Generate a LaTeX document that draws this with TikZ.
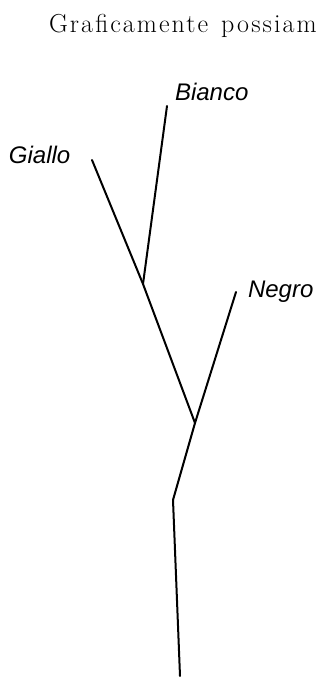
\documentclass[tikz,border=0pt]{standalone}
\usepackage{fontspec}
\newfontfamily\labelfont{Liberation Sans}
\newfontfamily\scanfont[LetterSpace=8]{Latin Modern Roman}
\usetikzlibrary{positioning}
\tikzset{
  every picture/.style={line width=2pt},
  branch/.style={draw=black, line cap=round, line join=round},
  colour/.style={font=\labelfont\itshape\fontsize{24}{28}\selectfont, inner sep=0pt, anchor=base west},
  scan/.style={font=\scanfont\fontsize{26}{30}\selectfont, inner sep=0pt, anchor=base west},
}

\begin{document}
\begin{tikzpicture}[x=1pt, y=-1pt]
  \useasboundingbox (0,0) rectangle (321,677);
  \node[scan] (head) at (48,33) {Graficamente\hspace{3pt} possiam};
  % the three colours
  \node[colour] (bianco) at (174,100) {Bianco};
  \node[colour] (giallo) at (8,163) {Giallo};
  \node[colour] (negro) at (247,297) {Negro};
  \coordinate (btip) at (167,106);
  \coordinate (gtip) at (92,160);
  \coordinate (ntip) at (236,292);
  \coordinate (fork1) at (143,284);
  \coordinate (fork2) at (195,423);
  \coordinate (bend) at (173,500);
  \coordinate (root) at (180,676);
  % tree
  \draw[branch] (btip) -- (fork1);
  \draw[branch] (gtip) -- (fork1) -- (fork2);
  \draw[branch] (ntip) -- (fork2);
  \draw[branch] (fork2) -- (bend) -- (root);
\end{tikzpicture}
\end{document}
